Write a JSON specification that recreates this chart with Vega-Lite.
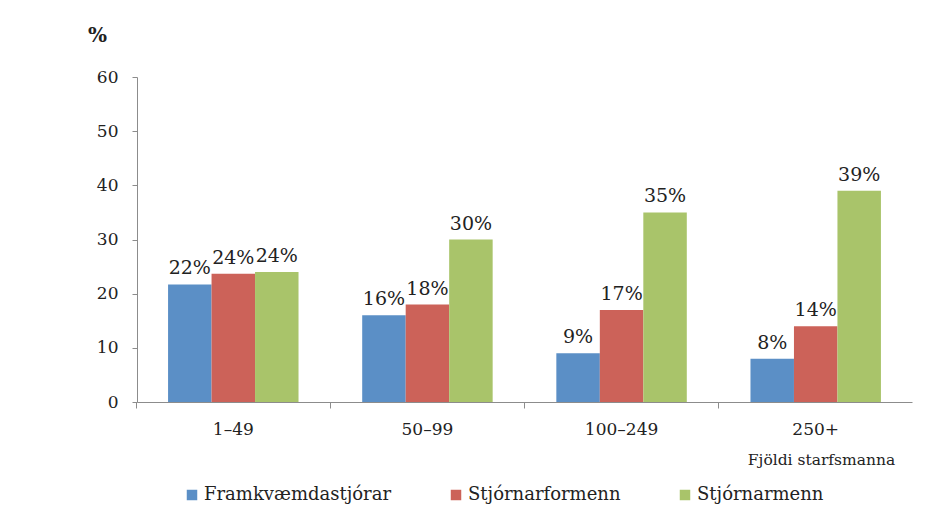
{
  "$schema": "https://vega.github.io/schema/vega-lite/v6.json",
  "width": 775,
  "height": 325,
  "autosize": {"type": "none"},
  "padding": {"left": 137, "top": 77, "right": 25, "bottom": 114},
  "background": "white",
  "config": {"view": {"stroke": null}, "font": "DejaVu Serif"},
  "data": {
    "values": [
      {"size": "1–49", "role": "Framkvæmdastjórar", "value": 21.7, "label": "22%"},
      {"size": "1–49", "role": "Stjórnarformenn", "value": 23.7, "label": "24%"},
      {"size": "1–49", "role": "Stjórnarmenn", "value": 24.0, "label": "24%"},
      {"size": "50–99", "role": "Framkvæmdastjórar", "value": 16, "label": "16%"},
      {"size": "50–99", "role": "Stjórnarformenn", "value": 18, "label": "18%"},
      {"size": "50–99", "role": "Stjórnarmenn", "value": 30, "label": "30%"},
      {"size": "100–249", "role": "Framkvæmdastjórar", "value": 9, "label": "9%"},
      {"size": "100–249", "role": "Stjórnarformenn", "value": 17, "label": "17%"},
      {"size": "100–249", "role": "Stjórnarmenn", "value": 35, "label": "35%"},
      {"size": "250+", "role": "Framkvæmdastjórar", "value": 8, "label": "8%"},
      {"size": "250+", "role": "Stjórnarformenn", "value": 14, "label": "14%"},
      {"size": "250+", "role": "Stjórnarmenn", "value": 39, "label": "39%"}
    ]
  },
  "encoding": {
    "x": {
      "field": "size",
      "type": "nominal",
      "sort": ["1–49", "50–99", "100–249", "250+"],
      "scale": {"paddingInner": 0.328, "paddingOuter": 0.16},
      "axis": {
        "labelAngle": 0,
        "bandPosition": -0.245,
        "domainColor": "#8c8c8c",
        "tickColor": "#8c8c8c",
        "tickSize": 6,
        "labelPadding": 13,
        "labelFontSize": 17,
        "labelColor": "#222222",
        "title": "Fjöldi starfsmanna",
        "titleFontSize": 15.5,
        "titleFontWeight": "normal",
        "titleColor": "#222222",
        "titleAlign": "center",
        "titleBaseline": "top",
        "titleX": 684,
        "titleY": 50
      }
    },
    "xOffset": {
      "field": "role",
      "type": "nominal",
      "sort": ["Framkvæmdastjórar", "Stjórnarformenn", "Stjórnarmenn"],
      "scale": {"paddingInner": 0, "paddingOuter": 0}
    },
    "y": {
      "field": "value",
      "type": "quantitative",
      "scale": {"domain": [0, 60]},
      "axis": {
        "values": [0, 10, 20, 30, 40, 50, 60],
        "grid": false,
        "domainColor": "#8c8c8c",
        "tickColor": "#8c8c8c",
        "tickSize": 5,
        "labelPadding": 14,
        "labelFontSize": 17,
        "labelColor": "#222222",
        "title": "%",
        "titleAngle": 0,
        "titleX": -40,
        "titleY": -42,
        "titleAlign": "center",
        "titleBaseline": "middle",
        "titleFontSize": 20,
        "titleFontWeight": "bold",
        "titleColor": "#222222"
      }
    }
  },
  "layer": [
    {
      "mark": {"type": "bar"},
      "encoding": {
        "color": {
          "field": "role",
          "type": "nominal",
          "sort": ["Framkvæmdastjórar", "Stjórnarformenn", "Stjórnarmenn"],
          "scale": {"domain": ["Framkvæmdastjórar", "Stjórnarformenn", "Stjórnarmenn"], "range": ["#5B8FC6", "#CC6259", "#A9C46A"]},
          "legend": {
            "orient": "none",
            "legendX": 46,
            "legendY": 409,
            "direction": "horizontal",
            "title": null,
            "symbolType": "square",
            "symbolSize": 110,
            "symbolStrokeWidth": 0,
            "labelFontSize": 18,
            "labelColor": "#222222",
            "labelOffset": 3,
            "columnPadding": 55,
            "labelLimit": 400
          }
        }
      }
    },
    {
      "mark": {"type": "text", "baseline": "bottom", "dy": -6, "fontSize": 19, "color": "#222222"},
      "encoding": {"text": {"field": "label"}}
    }
  ]
}
